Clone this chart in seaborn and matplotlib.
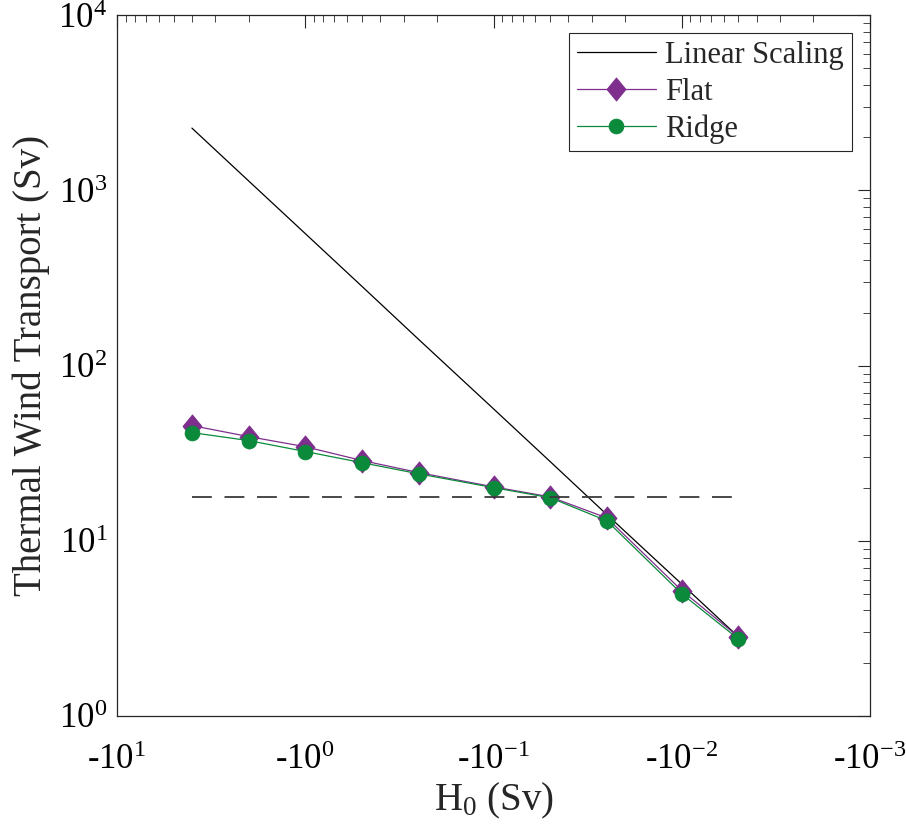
import numpy as np
import pandas as pd
import matplotlib
matplotlib.use("Agg")
import matplotlib.pyplot as plt
import seaborn as sns
from matplotlib.path import Path
from matplotlib.ticker import FixedLocator, FuncFormatter, LogLocator, NullFormatter

# Buoyancy forcing magnitudes |H0| (Sv); plotted as negative values
h0 = [4, 2, 1, 0.5, 0.25, 0.1, 0.05, 0.025, 0.01, 0.005]
flat = [45.4, 39.3, 34.4, 28.7, 24.5, 20.3, 17.8, 13.5, 5.2, 2.83]
ridge = [41.4, 37.3, 32.3, 27.9, 24.1, 20.1, 17.6, 13.0, 4.98, 2.75]
linear = [2263, 1131, 566, 283, 141, 56.6, 28.3, 14.1, 5.66, 2.83]
threshold = 17.8

sns.set_theme(style="white")
plt.rcParams["font.family"] = ["Liberation Serif", "DejaVu Serif"]
plt.rcParams["mathtext.fontset"] = "custom"
plt.rcParams["mathtext.rm"] = "Liberation Serif"
plt.rcParams["mathtext.it"] = "Liberation Serif"

FLAT_C = "#7E2F8E"
RIDGE_C = "#0A8A3A"
diamond = Path([(0, 1), (0.82, 0), (0, -1), (-0.82, 0), (0, 1)],
               [Path.MOVETO, Path.LINETO, Path.LINETO, Path.LINETO, Path.CLOSEPOLY])

fig = plt.figure(figsize=(9.06, 8.39), dpi=100)
ax = fig.add_axes([117 / 906, 1 - 716 / 839, (870 - 117) / 906, (716 - 15) / 839])

df = pd.DataFrame({"H0": h0, "Linear Scaling": linear, "Flat": flat, "Ridge": ridge})

sns.lineplot(data=df, x="H0", y="Linear Scaling", ax=ax, color="black", lw=0.9,
             label="Linear Scaling")
sns.lineplot(data=df, x="H0", y="Flat", ax=ax, color=FLAT_C, lw=0.9, marker=diamond,
             markersize=16.5, markeredgecolor=FLAT_C, label="Flat")
sns.lineplot(data=df, x="H0", y="Ridge", ax=ax, color=RIDGE_C, lw=0.9, marker="o",
             markersize=10.5, markeredgecolor=RIDGE_C, label="Ridge")
ax.hlines(threshold, h0[0], h0[-1], colors="#3a3a3a", lw=1.3, linestyles=(0, (11, 7)))

ax.set_xscale("log")
ax.set_yscale("log")
ax.set_xlim(10, 1e-3)
ax.set_ylim(1, 1e4)

ax.xaxis.set_major_locator(FixedLocator([10, 1, 0.1, 0.01, 0.001]))
ax.xaxis.set_major_formatter(FuncFormatter(
    lambda v, p: r"-10$^{%d}$" % int(round(np.log10(v)))))
ax.xaxis.set_minor_locator(LogLocator(base=10, subs=np.arange(2, 10)))
ax.xaxis.set_minor_formatter(NullFormatter())
ax.yaxis.set_major_locator(FixedLocator([1, 10, 100, 1000, 10000]))
ax.yaxis.set_major_formatter(FuncFormatter(
    lambda v, p: r"10$^{%d}$" % int(round(np.log10(v)))))
ax.yaxis.set_minor_locator(LogLocator(base=10, subs=np.arange(2, 10)))
ax.yaxis.set_minor_formatter(NullFormatter())

ax.tick_params(which="both", direction="in", top=True, right=True, colors="#262626",
               labelcolor="black")
ax.tick_params(which="major", length=9, width=0.8, labelsize=25)
ax.tick_params(axis="x", which="major", pad=20)
ax.tick_params(axis="y", which="major", pad=7)
ax.tick_params(which="minor", length=5, width=0.6)
for s in ax.spines.values():
    s.set_color("#262626")
    s.set_linewidth(0.9)

ax.set_xlabel(r"H$_0$ (Sv)", fontsize=28, labelpad=3)
ax.set_ylabel("Thermal Wind Transport (Sv)", fontsize=28, labelpad=6)

leg = ax.legend(loc="upper right", fontsize=22, frameon=True, fancybox=False,
                framealpha=1, edgecolor="#262626", borderpad=0.25, labelspacing=0.25,
                handlelength=2.6, handletextpad=0.3, borderaxespad=0.6)
leg.get_frame().set_linewidth(0.8)

fig.savefig("out.png", dpi=100)
